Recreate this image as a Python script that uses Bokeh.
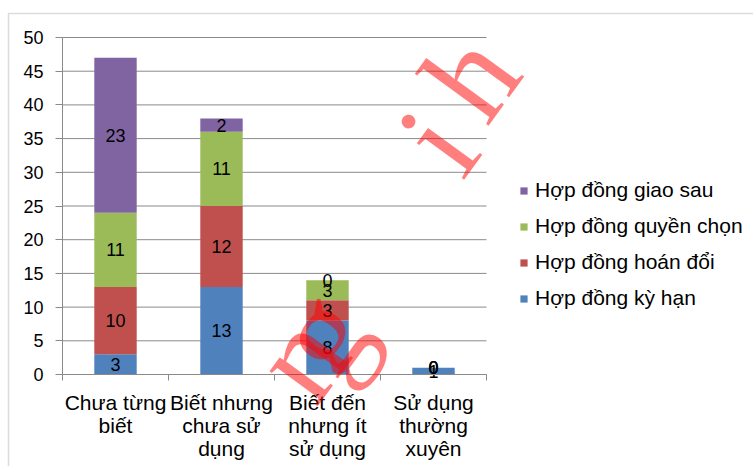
from bokeh.plotting import figure
from bokeh.models import (ColumnDataSource, FixedTicker, Legend, LegendItem,
                          Label, BoxAnnotation, Range1d)
from bokeh.embed import file_html
from bokeh.resources import INLINE
from bokeh.core.properties import value

# Survey categories (x axis) and the four contract types (stacked series)
categories = ["Chưa từng\nbiết", "Biết nhưng\nchưa sử\ndụng",
              "Biết đến\nnhưng ít\nsử dụng", "Sử dụng\nthường\nxuyên"]
series_names = ["Hợp đồng kỳ hạn", "Hợp đồng hoán đổi",
                "Hợp đồng quyền chọn", "Hợp đồng giao sau"]
ky_han = [3, 13, 8, 1]
hoan_doi = [10, 12, 3, 0]
quyen_chon = [11, 11, 3, 0]
giao_sau = [23, 2, 0, 0]
y_ticks = [0, 5, 10, 15, 20, 25, 30, 35, 40, 45, 50]

colors = ["#4F81BD", "#C0504D", "#9BBB59", "#8064A2"]
keys = ["ky_han", "hoan_doi", "quyen_chon", "giao_sau"]
series = [ky_han, hoan_doi, quyen_chon, giao_sau]

FONT = "Liberation Sans"
GRID = "#8a8a8a"

# page geometry: the frame covers the whole canvas, the plotting area
# sits inside it and the axes are pinned at zero
W, H = 753, 466
LEFT, RIGHT, TOP, BOTTOM = 62, 486, 37, 374
n_cat = len(categories)
y_max = y_ticks[-1]
px_x = (RIGHT - LEFT) / n_cat
px_y = (BOTTOM - TOP) / y_max


def dx(sx):
    return (sx - LEFT) / px_x


def dy(sy):
    return (BOTTOM - sy) / px_y


x = [i + 0.5 for i in range(n_cat)]
data = dict(x=x)
for k, s in zip(keys, series):
    data[k] = s
source = ColumnDataSource(data)

p = figure(width=W, height=H, x_range=Range1d(dx(0), dx(W)),
           y_range=Range1d(dy(H), dy(0)),
           output_backend="svg", toolbar_location=None, min_border=0)
p.outline_line_color = None
p.background_fill_color = "white"
p.border_fill_color = "white"
p.xgrid.visible = False
p.ygrid.visible = False

# horizontal gridlines over the plotting area
p.segment(x0=[0] * len(y_ticks), x1=[n_cat] * len(y_ticks), y0=y_ticks,
          y1=y_ticks, line_color=GRID, line_width=1)

renderers = p.vbar_stack(keys, x="x", width=0.4, color=colors,
                         line_color=None, source=source)

# value labels centred in each segment
lx, ly, lt = [], [], []
bottoms = [0] * n_cat
for s in series:
    for i, v in enumerate(s):
        lx.append(x[i])
        ly.append(bottoms[i] + v / 2)
        lt.append(str(v))
        bottoms[i] += v
p.text(x=lx, y=ly, text=lt, text_align="center", text_baseline="middle",
       text_font=value(FONT), text_font_size="18px", text_color="black")

# axes
p.yaxis.fixed_location = 0
p.yaxis.bounds = (0, y_max)
p.yaxis.ticker = FixedTicker(ticks=y_ticks)
p.yaxis.axis_line_color = GRID
p.yaxis.major_tick_line_color = GRID
p.yaxis.major_tick_out = 7
p.yaxis.major_tick_in = 0
p.yaxis.minor_tick_line_color = None
p.yaxis.major_label_standoff = 12
p.yaxis.major_label_text_font = FONT
p.yaxis.major_label_text_font_size = "18px"
p.yaxis.major_label_text_color = "black"

p.xaxis.fixed_location = 0
p.xaxis.bounds = (0, n_cat)
p.xaxis.ticker = FixedTicker(ticks=x, minor_ticks=list(range(n_cat + 1)))
p.xaxis.major_label_overrides = {xi: c for xi, c in zip(x, categories)}
p.xaxis.axis_line_color = GRID
p.xaxis.major_tick_line_color = None
p.xaxis.minor_tick_line_color = GRID
p.xaxis.minor_tick_out = 6
p.xaxis.minor_tick_in = 0
p.xaxis.major_label_standoff = 10
p.xaxis.major_label_text_font = FONT
p.xaxis.major_label_text_font_size = "21px"
p.xaxis.major_label_text_color = "black"
p.xaxis.major_label_text_line_height = 1.02

# legend, top entry is the top of the stack
items = [LegendItem(label=n, renderers=[r])
         for n, r in zip(series_names, renderers)][::-1]
legend = Legend(items=items, location=(519, 156), padding=0, margin=0,
                border_line_color=None, background_fill_alpha=0,
                glyph_width=9, glyph_height=9, label_standoff=7,
                label_height=20, spacing=12,
                label_text_font=FONT, label_text_font_size="21px",
                label_text_color="black")
p.add_layout(legend)

# red watermark, one letter at a time along a tilted baseline
for ch, sx, sy in [("n", 299, 356), ("g", 320, 332),
                   ("i", 437, 141), ("h", 470, 75)]:
    p.add_layout(Label(x=dx(sx), y=dy(sy), text=ch, angle=54,
                       angle_units="deg", text_font="Liberation Serif",
                       text_font_size="130px", text_color="red",
                       text_alpha=0.5, text_align="center",
                       text_baseline="alphabetic"))

# outer chart border
p.add_layout(BoxAnnotation(left=8, right=W + 20, top=13, bottom=H + 20,
                           left_units="canvas", right_units="canvas",
                           top_units="canvas", bottom_units="canvas",
                           fill_color=None, line_color="#8c8c8c",
                           line_width=1.5))

open("out.html", "w").write(file_html(p, INLINE))
